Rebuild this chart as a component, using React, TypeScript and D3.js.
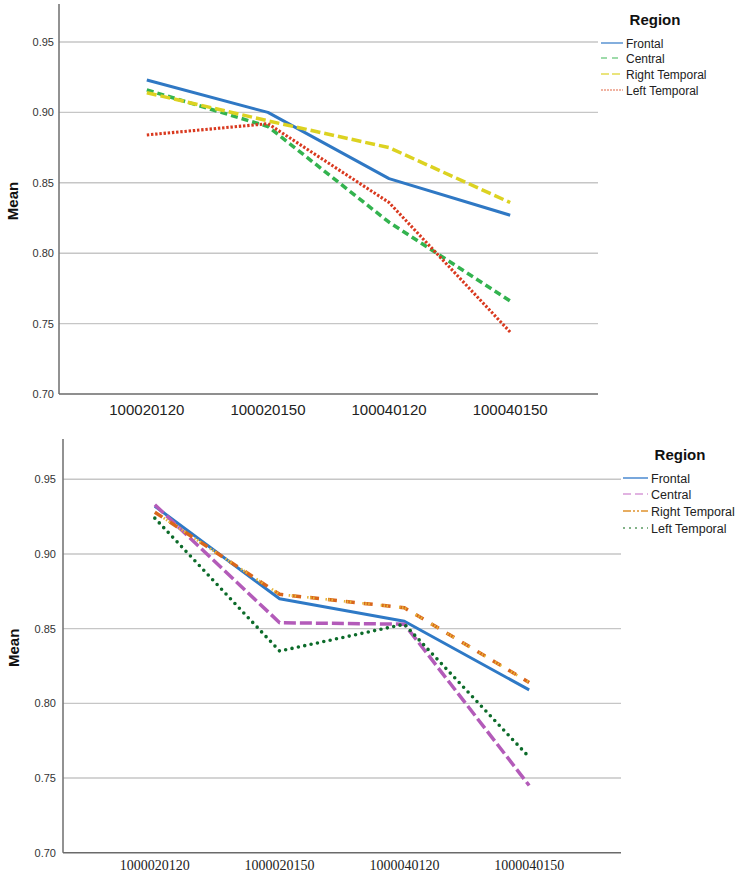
import React, { useEffect, useRef } from 'react';
import * as d3 from 'd3';

// top chart
const topCategories = ['100020120', '100020150', '100040120', '100040150'];
const topFrontal = [0.923, 0.900, 0.853, 0.827];
const topCentral = [0.916, 0.890, 0.822, 0.766];
const topRightTemporal = [0.914, 0.894, 0.875, 0.836];
const topLeftTemporal = [0.884, 0.892, 0.836, 0.744];

// bottom chart
const bottomCategories = ['1000020120', '1000020150', '1000040120', '1000040150'];
const bottomFrontal = [0.932, 0.870, 0.855, 0.809];
const bottomCentral = [0.933, 0.854, 0.853, 0.745];
const bottomRightTemporal = [0.928, 0.873, 0.864, 0.814];
const bottomLeftTemporal = [0.924, 0.835, 0.853, 0.764];

const regionNames = ['Frontal', 'Central', 'Right Temporal', 'Left Temporal'];
const yTicks = [0.70, 0.75, 0.80, 0.85, 0.90, 0.95];

interface SeriesStyle {
  color: string;
  legendColor: string;
  dash: string;
  legendDash: string;
  width: number;
  cap: string;
  overlay?: { color: string; dash: string; offset: number };
}

interface ChartLayout {
  top: number;
  axisY: number;
  left: number;
  right: number;
  padding: number;
  xLabelY: number;
  xFont: string;
  xFontSize: number;
  yLabelRight: number;
  titleX: number;
  legendTitleX: number;
  legendTitleY: number;
  legendLineX: number;
  legendLineW: number;
  legendY: number[];
  legendFontSize: number;
}

const sans = 'Liberation Sans, Arial, sans-serif';

const topStyles: SeriesStyle[] = [
  { color: '#2f78c4', legendColor: '#5a93d2', dash: '', legendDash: '', width: 3, cap: 'butt' },
  { color: '#33b34f', legendColor: '#7fd08f', dash: '7,4', legendDash: '6,5', width: 3.5, cap: 'butt' },
  { color: '#dcd221', legendColor: '#e4dc52', dash: '10,4', legendDash: '8,3', width: 3.5, cap: 'butt' },
  { color: '#d9391f', legendColor: '#ec9a84', dash: '2.4,1.8', legendDash: '2,1', width: 3.1, cap: 'butt' },
];

const bottomStyles: SeriesStyle[] = [
  { color: '#2e79c6', legendColor: '#4b8ad0', dash: '', legendDash: '', width: 3, cap: 'butt' },
  { color: '#b35bb9', legendColor: '#d79ad8', dash: '12,4', legendDash: '8,4', width: 3.5, cap: 'butt' },
  {
    color: '#d9661c', legendColor: '#e0922e', dash: '9,9', legendDash: '8,2,2,2,2,2', width: 3.5, cap: 'butt',
    overlay: { color: '#e7b53a', dash: '1.5,1.5,1.5,1.5,1.5,11', offset: -10.5 },
  },
  { color: '#0c6b2a', legendColor: '#5a9a62', dash: '0,6.5', legendDash: '2,4', width: 3.6, cap: 'round' },
];

const topLayout: ChartLayout = {
  top: 4, axisY: 394, left: 59, right: 598, padding: 0.725,
  xLabelY: 415, xFont: sans, xFontSize: 15, yLabelRight: 54, titleX: 13,
  legendTitleX: 655, legendTitleY: 25, legendLineX: 601, legendLineW: 22,
  legendY: [43, 58, 74, 90], legendFontSize: 12,
};

const bottomLayout: ChartLayout = {
  top: 439, axisY: 852.7, left: 63, right: 621, padding: 0.736,
  xLabelY: 870, xFont: 'Liberation Serif, Times New Roman, serif', xFontSize: 14, yLabelRight: 56, titleX: 14,
  legendTitleX: 680, legendTitleY: 460, legendLineX: 623, legendLineW: 25,
  legendY: [478, 494, 511, 528], legendFontSize: 12.5,
};

function drawChart(
  svg: d3.Selection<SVGSVGElement, unknown, null, undefined>,
  categories: string[],
  series: number[][],
  styles: SeriesStyle[],
  L: ChartLayout
) {
  const g = svg.append('g');
  const x = d3.scalePoint<string>().domain(categories).range([L.left, L.right]).padding(L.padding);
  const y = d3.scaleLinear().domain([0.70, 0.977]).range([L.axisY, L.top]);

  // grid lines
  g.selectAll('.grid')
    .data(yTicks.slice(1))
    .enter()
    .append('line')
    .attr('x1', L.left)
    .attr('x2', L.right)
    .attr('y1', d => y(d))
    .attr('y2', d => y(d))
    .attr('stroke', '#c6c6c6')
    .attr('stroke-width', 1.4);

  // y tick labels
  g.selectAll('.ytick')
    .data(yTicks)
    .enter()
    .append('text')
    .attr('x', L.yLabelRight)
    .attr('y', d => y(d) + 4)
    .attr('text-anchor', 'end')
    .attr('font-family', sans)
    .attr('font-size', 11)
    .attr('fill', '#333')
    .text(d => d.toFixed(2));

  // axes
  g.append('line')
    .attr('x1', L.left).attr('x2', L.left)
    .attr('y1', L.top).attr('y2', L.axisY)
    .attr('stroke', '#777').attr('stroke-width', 1.6);
  g.append('line')
    .attr('x1', L.left).attr('x2', L.right)
    .attr('y1', L.axisY).attr('y2', L.axisY)
    .attr('stroke', '#6a6a6a').attr('stroke-width', 1.6);

  // x labels
  g.selectAll('.xlabel')
    .data(categories)
    .enter()
    .append('text')
    .attr('x', d => x(d) as number)
    .attr('y', L.xLabelY)
    .attr('text-anchor', 'middle')
    .attr('font-family', L.xFont)
    .attr('font-size', L.xFontSize)
    .attr('fill', '#222')
    .text(d => d);

  // y title
  g.append('text')
    .attr('transform', `translate(${L.titleX + 5}, ${(L.top + L.axisY) / 2 + 2}) rotate(-90)`)
    .attr('text-anchor', 'middle')
    .attr('font-family', sans)
    .attr('font-weight', 'bold')
    .attr('font-size', 15)
    .attr('fill', '#111')
    .text('Mean');

  const line = d3.line<number>()
    .x((_, i) => x(categories[i]) as number)
    .y(d => y(d));

  series.forEach((vals, i) => {
    const s = styles[i];
    g.append('path')
      .attr('d', line(vals))
      .attr('fill', 'none')
      .attr('stroke', s.color)
      .attr('stroke-width', s.width)
      .attr('stroke-dasharray', s.dash || null)
      .attr('stroke-linecap', s.cap)
      .attr('stroke-linejoin', 'round');
    if (s.overlay) {
      g.append('path')
        .attr('d', line(vals))
        .attr('fill', 'none')
        .attr('stroke', s.overlay.color)
        .attr('stroke-width', s.width - 0.8)
        .attr('stroke-dasharray', s.overlay.dash)
        .attr('stroke-dashoffset', s.overlay.offset);
    }
  });

  // legend
  const lg = svg.append('g');
  lg.append('text')
    .attr('x', L.legendTitleX)
    .attr('y', L.legendTitleY)
    .attr('text-anchor', 'middle')
    .attr('font-family', sans)
    .attr('font-weight', 'bold')
    .attr('font-size', 15)
    .attr('fill', '#111')
    .text('Region');

  regionNames.forEach((name, i) => {
    const s = styles[i];
    const ly = L.legendY[i];
    lg.append('rect')
      .attr('x', L.legendLineX - 2)
      .attr('y', ly - 6)
      .attr('width', 140)
      .attr('height', 13)
      .attr('fill', 'white');
    lg.append('line')
      .attr('x1', L.legendLineX)
      .attr('x2', L.legendLineX + L.legendLineW)
      .attr('y1', ly)
      .attr('y2', ly)
      .attr('stroke', s.legendColor)
      .attr('stroke-width', 1.5)
      .attr('stroke-dasharray', s.legendDash || null);
    lg.append('text')
      .attr('x', L.legendLineX + L.legendLineW + 3)
      .attr('y', ly + 4.5)
      .attr('font-family', sans)
      .attr('font-size', L.legendFontSize)
      .attr('fill', '#222')
      .text(name);
  });
}

const App: React.FC = () => {
  const svgRef = useRef<SVGSVGElement>(null);

  useEffect(() => {
    if (!svgRef.current) return;
    const svg = d3.select(svgRef.current);
    svg.selectAll('*').remove();

    drawChart(svg, topCategories,
      [topFrontal, topCentral, topRightTemporal, topLeftTemporal], topStyles, topLayout);
    drawChart(svg, bottomCategories,
      [bottomFrontal, bottomCentral, bottomRightTemporal, bottomLeftTemporal], bottomStyles, bottomLayout);
  }, []);

  return (
    <svg
      ref={svgRef}
      width={741}
      height={876}
      style={{ position: 'absolute', left: 0, top: 0, display: 'block', background: 'white' }}
    />
  );
};

export default App;
